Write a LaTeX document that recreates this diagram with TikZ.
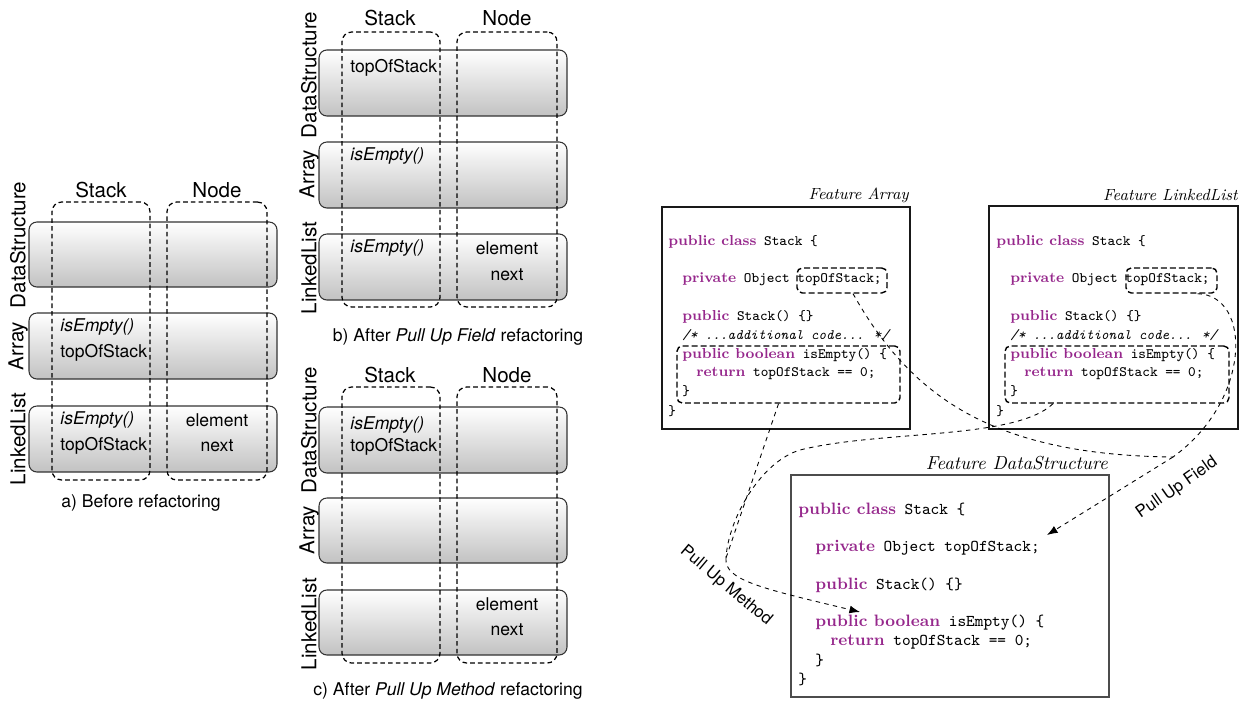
\documentclass[tikz,border=0pt]{standalone}
\usepackage{fontspec}
\setsansfont{TeX Gyre Heros}
\usetikzlibrary{fit,calc,arrows.meta}
\definecolor{kwcol}{RGB}{150,40,140}
\newcommand\kwd[1]{{\rmfamily\bfseries\color{kwcol}#1}}
\tikzset{
  cls/.style={draw=black!80, line width=0.6pt, rounded corners=4.5pt, inner sep=0pt,
    top color=white, bottom color=black!24},
  col/.style={draw=black, line width=0.7pt, dash pattern=on 2.6pt off 1.8pt,
    rounded corners=5.5pt, inner sep=0pt},
  lab/.style={font=\sffamily\fontsize{11.7}{14}\selectfont, inner sep=0pt},
  mem/.style={font=\sffamily\fontsize{10}{12}\selectfont, inner sep=0pt},
  capt/.style={font=\sffamily\fontsize{10}{12}\selectfont, inner sep=0pt},
  frame/.style={draw=black!90, line width=0.6pt, inner sep=0pt},
  flab/.style={font=\rmfamily\itshape\fontsize{9.2}{11}\selectfont, inner sep=0pt, anchor=east},
  code/.style={font=\ttfamily\fontsize{8.2}{10}\selectfont, inner sep=0pt, anchor=west},
  dcode/.style={font=\ttfamily\fontsize{9.4}{11}\selectfont, inner sep=0pt, anchor=west},
  hl/.style={draw=black, line width=0.8pt, dash pattern=on 3.4pt off 1.7pt,
    rounded corners=3pt, inner sep=0pt},
  conn/.style={draw=black, line width=0.5pt, dash pattern=on 2.5pt off 2.5pt},
  tip/.style={-{Latex[length=6pt,width=4.5pt]}},
  elab/.style={font=\sffamily\fontsize{9.5}{11}\selectfont, inner sep=0pt},
}
\begin{document}
\begin{tikzpicture}[x=0.02cm,y=-0.02cm]
\useasboundingbox (0,0) rectangle (1243,700);

% ---------------- panel a
\node[cls, fit={(29,222)(277,287)}] (aDS) {};
\node[cls, fit={(29,313)(277,379)}] (aAR) {};
\node[cls, fit={(29,406)(277,472)}] (aLL) {};
\node[col, fit={(52,202)(150,480)}] (aST) {};
\node[col, fit={(167,202)(267,480)}] (aND) {};
\node[lab] (aSTl) at (101,190) {Stack};
\node[lab] (aNDl) at (217,190) {Node};
\node[lab,rotate=90] (aDSl) at (18,245) {DataStructure};
\node[lab,rotate=90] (aARl) at (18,346) {Array};
\node[lab,rotate=90] (aLLl) at (18,439) {LinkedList};
\node[mem,anchor=west] (a1) at (60,327) {\itshape isEmpty()};
\node[mem,anchor=west] (a2) at (60,353) {topOfStack};
\node[mem,anchor=west] (a3) at (60,420) {\itshape isEmpty()};
\node[mem,anchor=west] (a4) at (60,446) {topOfStack};
\node[mem] (a5) at (217,420) {element};
\node[mem] (a6) at (217,446) {next};
\node[capt] (acap) at (141,503) {a) Before refactoring};

% ---------------- panel b
\node[cls, fit={(319,50)(567,116)}] (bDS) {};
\node[cls, fit={(319,142)(567,208)}] (bAR) {};
\node[cls, fit={(319,234)(567,300)}] (bLL) {};
\node[col, fit={(342,32)(440,307)}] (bST) {};
\node[col, fit={(457,32)(557,307)}] (bND) {};
\node[lab] (bSTl) at (390,18) {Stack};
\node[lab] (bNDl) at (507,18) {Node};
\node[lab,rotate=90] (bDSl) at (309,75) {DataStructure};
\node[lab,rotate=90] (bARl) at (309,174) {Array};
\node[lab,rotate=90] (bLLl) at (309,268) {LinkedList};
\node[mem,anchor=west] (b1) at (350,68) {topOfStack};
\node[mem,anchor=west] (b2) at (350,156) {\itshape isEmpty()};
\node[mem,anchor=west] (b3) at (350,248) {\itshape isEmpty()};
\node[mem] (b4) at (507,248) {element};
\node[mem] (b5) at (507,275) {next};
\node[capt] (bcap) at (458,337) {b) After \textit{Pull Up Field} refactoring};

% ---------------- panel c
\node[cls, fit={(319,407)(567,473)}] (cDS) {};
\node[cls, fit={(319,498)(567,563)}] (cAR) {};
\node[cls, fit={(319,590)(567,655)}] (cLL) {};
\node[col, fit={(342,387)(440,663)}] (cST) {};
\node[col, fit={(457,387)(557,663)}] (cND) {};
\node[lab] (cSTl) at (390,375) {Stack};
\node[lab] (cNDl) at (507,375) {Node};
\node[lab,rotate=90] (cDSl) at (309,430) {DataStructure};
\node[lab,rotate=90] (cARl) at (309,530) {Array};
\node[lab,rotate=90] (cLLl) at (309,624) {LinkedList};
\node[mem,anchor=west] (c1) at (350,425) {\itshape isEmpty()};
\node[mem,anchor=west] (c2) at (350,447) {topOfStack};
\node[mem] (c3) at (507,604) {element};
\node[mem] (c4) at (507,630) {next};
\node[capt] (ccap) at (448,691) {c) After \textit{Pull Up Method} refactoring};

% ---------------- Feature Array
\node[frame, fit={(662,207)(910,429)}] (fa) {};
\node[flab] (fal) at (909,195) {Feature Array};
\node[code] (al1) at (668,242) {\kwd{public class} Stack \{};
\node[code] (al2) at (682,279) {\kwd{private} Object topOfStack;};
\node[code] (al3) at (682,317) {\kwd{public} Stack() \{\}};
\node[code] (al4) at (682,335) {\itshape /* ...additional code... */};
\node[code] (al5) at (682,355) {\kwd{public boolean} isEmpty() \{};
\node[code] (al6) at (696,374) {\kwd{return} topOfStack == 0;};
\node[code] (al7) at (682,391) {\}};
\node[code] (al8) at (668,411) {\}};
\node[hl, fit={(797,268)(887,293)}] (atos) {};
\node[hl, fit={(677,346)(900,403)}] (ameth) {};

% ---------------- Feature LinkedList
\node[frame, fit={(989,206)(1238,429)}] (fl) {};
\node[flab] (fll) at (1238,195) {Feature LinkedList};
\node[code] (ll1) at (996,242) {\kwd{public class} Stack \{};
\node[code] (ll2) at (1010,279) {\kwd{private} Object topOfStack;};
\node[code] (ll3) at (1010,317) {\kwd{public} Stack() \{\}};
\node[code] (ll4) at (1010,335) {\itshape /* ...additional code... */};
\node[code] (ll5) at (1010,355) {\kwd{public boolean} isEmpty() \{};
\node[code] (ll6) at (1024,374) {\kwd{return} topOfStack == 0;};
\node[code] (ll7) at (1010,391) {\}};
\node[code] (ll8) at (996,411) {\}};
\node[hl, fit={(1126,268)(1217,293)}] (ltos) {};
\node[hl, fit={(1005,346)(1229,403)}] (lmeth) {};

% ---------------- Feature DataStructure
\node[frame, draw=black!70, fit={(791,475)(1109,697)}] (fd) {};
\node[flab, font=\rmfamily\itshape\fontsize{10.7}{13}\selectfont] (fdl) at (1108,463) {Feature DataStructure};
\node[dcode] (dl1) at (798,510) {\kwd{public class} Stack \{};
\node[dcode] (dl2) at (815,548) {\kwd{private} Object topOfStack;};
\node[dcode] (dl3) at (815,585) {\kwd{public} Stack() \{\}};
\node[dcode] (dl4) at (815,623) {\kwd{public boolean} isEmpty() \{};
\node[dcode] (dl5) at (830,642) {\kwd{return} topOfStack == 0;};
\node[dcode] (dl6) at (815,660) {\}};
\node[dcode] (dl7) at (798,679) {\}};

% ---------------- connectors
\coordinate (fm) at (1173,457);
\coordinate (mm) at (726,558);
\coordinate (ftip) at (1047,535);
\coordinate (mtip) at (860,612);

\draw[conn] ($(atos.south)+(11,0)$) .. controls (910,395) and (990,455) .. (fm);
\draw[conn] ($(ltos.south)+(26,0)$) .. controls (1252,295) and (1252,400) .. (fm);
\draw[conn,tip] (fm) -- (ftip);
\node[elab, rotate=35] (puf) at (1177,488) {Pull Up Field};

\draw[conn] ($(ameth.south)+(-10,0)$) -- (mm);
\draw[conn] ($(lmeth.south)+(-64,0)$) .. controls (1015,440) and (880,430) .. (800,450)
  .. controls (760,462) and (728,520) .. (mm);
\draw[conn,tip] (mm) .. controls (724,580) and (760,588) .. (mtip);
\node[elab, rotate=-40] (pum) at (726,586) {Pull Up Method};
\end{tikzpicture}
\end{document}
